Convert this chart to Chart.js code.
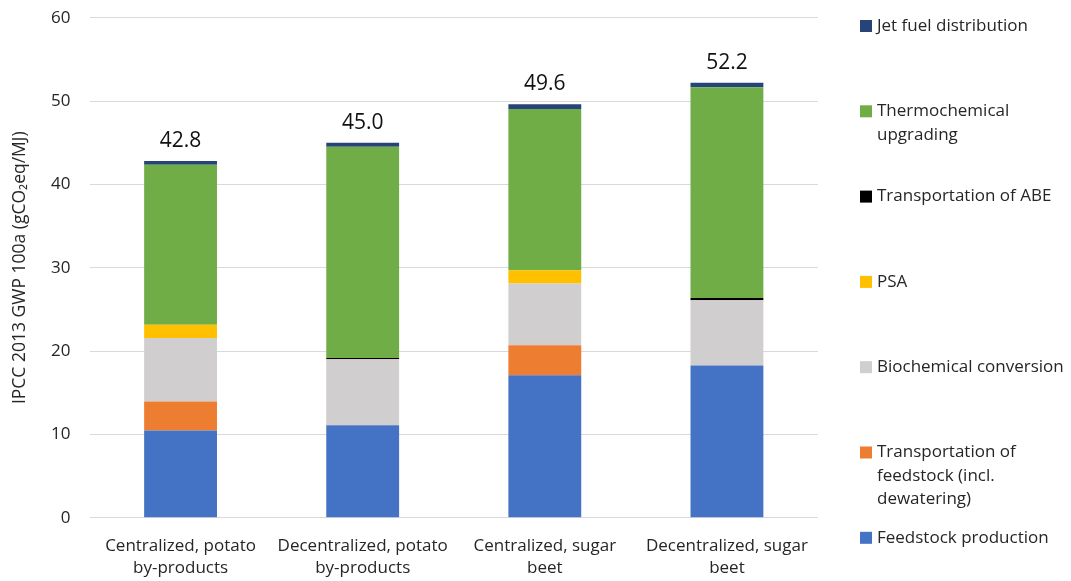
<!DOCTYPE html>
<html>
<head>
<meta charset="utf-8">
<script src="https://cdn.jsdelivr.net/npm/chart.js@4"></script>
<style>
  html, body { margin: 0; padding: 0; background: #fff; }
  #wrap { width: 1071px; height: 581px; }
</style>
</head>
<body>
<div id="wrap"><canvas id="Chart1" width="1071" height="581"></canvas></div>
<script>
// categories (x axis, two lines each)
var categories = [
  ["Centralized, potato", "by-products"],
  ["Decentralized, potato", "by-products"],
  ["Centralized, sugar", "beet"],
  ["Decentralized, sugar", "beet"],
];

// stage values, gCO2eq/MJ, bottom to top of each stack
var feedstockProduction = [10.45, 11.1, 17.1, 18.25];
var transportFeedstock = [3.5, 0, 3.6, 0];
var biochemicalConversion = [7.6, 7.9, 7.4, 7.85];
var psa = [1.6, 0, 1.6, 0];
var transportABE = [0, 0.15, 0, 0.25];
var thermochemical = [19.2, 25.35, 19.35, 25.3];
var jetFuel = [0.45, 0.5, 0.55, 0.55];

var yTicks = [0, 10, 20, 30, 40, 50, 60];

var FONT = "'Open Sans', Lato, sans-serif";
var TEXT = "#262626";

// legend on the right, top item = top of the stack
var legendRight = {
  id: "legendRight",
  afterDraw: function (chart) {
    var ctx = chart.ctx;
    var ds = chart.data.datasets;
    ctx.save();
    ctx.font = "17px " + FONT;
    ctx.textBaseline = "middle";
    ctx.textAlign = "left";
    for (var i = 0; i < ds.length; i++) {
      var item = ds[ds.length - 1 - i];
      var y = 26 + i * 85.3;
      ctx.fillStyle = item.backgroundColor;
      ctx.fillRect(860, y - 6, 12, 12);
      ctx.fillStyle = TEXT;
      var lines = [].concat(item.legendText);
      for (var j = 0; j < lines.length; j++) {
        ctx.fillText(lines[j], 877, y + j * 23.5);
      }
    }
    ctx.restore();
  },
};

// totals above each bar
var totalLabels = {
  id: "totalLabels",
  afterDatasetsDraw: function (chart) {
    var ctx = chart.ctx;
    var ds = chart.data.datasets;
    var yScale = chart.scales.y;
    var meta = chart.getDatasetMeta(0);
    ctx.save();
    ctx.font = "21px " + FONT;
    ctx.fillStyle = "#111";
    ctx.textAlign = "center";
    ctx.textBaseline = "middle";
    for (var k = 0; k < categories.length; k++) {
      var total = 0;
      for (var i = 0; i < ds.length; i++) total += ds[i].data[k];
      var x = meta.data[k].x;
      ctx.fillText(total.toFixed(1), x, yScale.getPixelForValue(total) - 20);
    }
    ctx.restore();
  },
};

function makeSet(label, legendText, data, color) {
  return {
    label: label,
    legendText: legendText,
    data: data,
    backgroundColor: color,
    borderWidth: 0,
    barPercentage: 0.4,
    categoryPercentage: 1,
  };
}

var data = {
  labels: categories,
  datasets: [
    makeSet("Feedstock production", "Feedstock production", feedstockProduction, "#4472C4"),
    makeSet("Transportation of feedstock (incl. dewatering)",
      ["Transportation of", "feedstock (incl.", "dewatering)"], transportFeedstock, "#ED7D31"),
    makeSet("Biochemical conversion", "Biochemical conversion", biochemicalConversion, "#D0CECE"),
    makeSet("PSA", "PSA", psa, "#FFC000"),
    makeSet("Transportation of ABE", "Transportation of ABE", transportABE, "#000000"),
    makeSet("Thermochemical upgrading", ["Thermochemical", "upgrading"], thermochemical, "#70AD47"),
    makeSet("Jet fuel distribution", "Jet fuel distribution", jetFuel, "#264478"),
  ],
};

var options = {
  responsive: false,
  animation: false,
  layout: { padding: { top: 17.7, right: 253, bottom: 0, left: 0 } },
  plugins: {
    legend: { display: false },
    tooltip: { enabled: false },
  },
  scales: {
    x: {
      stacked: true,
      grid: { display: false, drawTicks: false },
      border: { display: false },
      ticks: {
        color: TEXT,
        font: { family: FONT, size: 17, lineHeight: 1.3 },
        padding: 17,
        maxRotation: 0,
      },
      afterFit: function (scale) { scale.height = 63.3; },
    },
    y: {
      stacked: true,
      min: 0,
      max: 60,
      afterBuildTicks: function (scale) {
        scale.ticks = yTicks.map(function (v) { return { value: v }; });
      },
      grid: { color: "#D9D9D9", lineWidth: 1, drawTicks: false },
      border: { display: false },
      ticks: {
        color: TEXT,
        font: { family: FONT, size: 17 },
        padding: 19,
      },
      title: {
        display: true,
        text: "IPCC 2013 GWP 100a (gCO\u2082eq/MJ)",
        color: TEXT,
        font: { family: FONT, size: 17.5 },
        padding: { top: 10, bottom: 0 },
      },
      afterFit: function (scale) {
        scale.width = 89.5;
        // tick padding would otherwise push the plot top down
        scale.paddingTop = 0;
        scale.paddingBottom = 0;
      },
    },
  },
};

var ctx = document.getElementById("Chart1").getContext("2d");
var myChart = new Chart(ctx, {
  type: "bar",
  data: data,
  options: options,
  plugins: [totalLabels, legendRight],
});
</script>
</body>
</html>
